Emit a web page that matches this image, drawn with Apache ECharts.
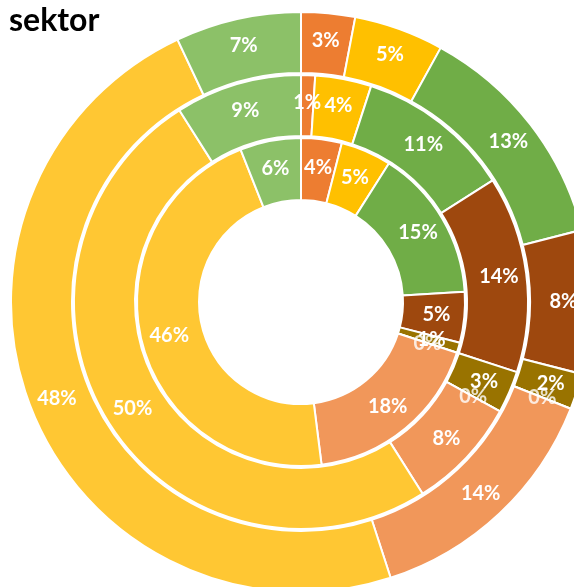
<!DOCTYPE html>
<html>
<head>
<meta charset="utf-8">
<script src="https://cdn.jsdelivr.net/npm/echarts@6/dist/echarts.min.js"></script>
<style>
  html, body { margin: 0; padding: 0; background: #fff; }
  #chart { width: 574px; height: 587px; }
</style>
</head>
<body>
<div id="chart"></div>
<script>
// kategorie (kolejnosc zgodnie z ruchem wskazowek od godziny 12)
var categories = ['A', 'B', 'C', 'D', 'E', 'F', 'G', 'H', 'I']
// wartosci w procentach dla kazdego pierscienia
var innerValues = [4, 5, 15, 5, 1, 0, 18, 46, 6]
var middleValues = [1, 4, 11, 14, 3, 0, 8, 50, 9]
var outerValues = [3, 5, 13, 8, 2, 0, 14, 48, 7]

var colors = ['#ED7D31', '#FFC000', '#70AD47', '#9E480E', '#997300', '#43682B', '#F1975A', '#FFC733', '#8CC168']

var center = [301, 302]
var rings = [
  { name: 'wewn', values: innerValues, radius: [102, 164] },
  { name: 'srodek', values: middleValues, radius: [166, 227] },
  { name: 'zewn', values: outerValues, radius: [229, 290] }
]

var labelStyle = {
  color: '#fff',
  fontFamily: 'Lato',
  fontWeight: 'bold',
  fontSize: 20
}

function ring(r) {
  return {
    name: r.name,
    type: 'pie',
    center: center,
    radius: r.radius,
    startAngle: 90,
    clockwise: true,
    avoidLabelOverlap: false,
    itemStyle: {
      borderColor: '#fff',
      borderWidth: 2
    },
    label: Object.assign({
      show: true,
      position: 'inside',
      formatter: function (p) {
        return p.value + '%'
      }
    }, labelStyle),
    labelLine: { show: false },
    emphasis: { disabled: true },
    data: r.values.map(function (v, i) {
      return { name: categories[i], value: v }
    })
  }
}

// etykiety dla wycinkow o wartosci 0 (pie ich nie rysuje)
var zeroLabels = []
rings.forEach(function (r) {
  var acc = 0
  r.values.forEach(function (v) {
    if (v === 0) {
      zeroLabels.push([(r.radius[0] + r.radius[1]) / 2, acc, v])
    }
    acc += v
  })
})

var chart = echarts.init(document.getElementById('chart'))
chart.setOption({
  animation: false,
  color: colors,
  title: {
    text: 'sektor',
    left: 4,
    top: 0,
    textStyle: {
      color: '#000',
      fontFamily: 'Lato',
      fontWeight: 'bold',
      fontSize: 32
    }
  },
  polar: {
    center: center,
    radius: 290
  },
  angleAxis: {
    type: 'value',
    min: 0,
    max: 100,
    startAngle: 90,
    clockwise: true,
    show: false
  },
  radiusAxis: {
    type: 'value',
    min: 0,
    max: 290,
    show: false
  },
  series: rings.map(ring).concat([{
    type: 'scatter',
    coordinateSystem: 'polar',
    symbolSize: 0,
    z: 5,
    silent: true,
    label: Object.assign({
      show: true,
      position: 'inside',
      formatter: function (p) {
        return p.value[2] + '%'
      }
    }, labelStyle),
    data: zeroLabels
  }])
})
</script>
</body>
</html>
